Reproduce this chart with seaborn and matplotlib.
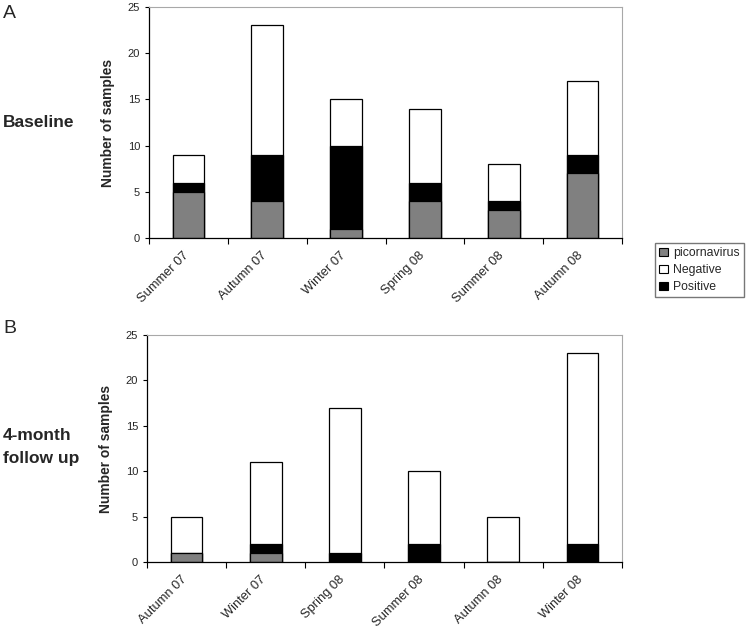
import pandas as pd
import seaborn as sns
import matplotlib.pyplot as plt
import matplotlib.transforms as mtransforms
from matplotlib.patches import Patch
from matplotlib.ticker import FixedLocator

sns.set_style("white")
plt.rcParams['font.family'] = ['Liberation Sans', 'DejaVu Sans']

# Baseline data (panel A)
seasons_a = ["Summer 07", "Autumn 07", "Winter 07", "Spring 08", "Summer 08", "Autumn 08"]
picorna_a = [5, 4, 1, 4, 3, 7]
positive_a = [1, 5, 9, 2, 1, 2]
negative_a = [3, 14, 5, 8, 4, 8]

# 4-month follow up data (panel B)
seasons_b = ["Autumn 07", "Winter 07", "Spring 08", "Summer 08", "Autumn 08", "Winter 08"]
picorna_b = [1, 1, 0, 0, 0, 0]
positive_b = [0, 1, 1, 2, 0, 2]
negative_b = [4, 9, 16, 8, 5, 21]

colors = {"picornavirus": "#808080", "Negative": "white", "Positive": "black"}


def stacked(fig, ax, seasons, pic, pos, neg):
    df = pd.DataFrame({"season": seasons, "picornavirus": pic,
                       "Positive": pos, "Negative": neg})
    df["top_pos"] = df["picornavirus"] + df["Positive"]
    df["top_neg"] = df["top_pos"] + df["Negative"]
    # layered bars: tallest first
    for col, c in [("top_neg", colors["Negative"]), ("top_pos", colors["Positive"]),
                   ("picornavirus", colors["picornavirus"])]:
        sns.barplot(data=df, x="season", y=col, color=c, ax=ax, width=0.4,
                    edgecolor="black", linewidth=0.9, saturation=1)
    ax.set_ylim(0, 25)
    ax.set_xlim(-0.5, len(seasons) - 0.5)
    ax.set_yticks(range(0, 26, 5))
    ax.set_xlabel("")
    ax.set_ylabel("Number of samples", fontsize=9.9, fontweight="bold", labelpad=9)
    ax.tick_params(axis="y", labelsize=8, length=3, direction="out", left=True, width=0.8, color="black")
    ax.tick_params(axis="x", which="major", length=0, labelsize=9.3, pad=8)
    ax.xaxis.set_minor_locator(FixedLocator([i - 0.5 for i in range(len(seasons) + 1)]))
    ax.tick_params(axis="x", which="minor", length=4, bottom=True, direction="out", width=0.8, color="black")
    shift = mtransforms.ScaledTranslation(-6 / 100, 0, fig.dpi_scale_trans)
    for lab in ax.get_xticklabels():
        lab.set_rotation(45)
        lab.set_ha("right")
        lab.set_rotation_mode("anchor")
        lab.set_transform(lab.get_transform() + shift)
    for s in ["left", "bottom"]:
        ax.spines[s].set_color("black")
        ax.spines[s].set_linewidth(0.9)
    for s in ["top", "right"]:
        ax.spines[s].set_color("#a8a8a8")
        ax.spines[s].set_linewidth(0.8)


fig = plt.figure(figsize=(7.48, 6.29), dpi=100)
ax1 = fig.add_axes([149 / 748, 1 - 238 / 629, (622 - 149) / 748, (238 - 7) / 629])
ax2 = fig.add_axes([147 / 748, 1 - 562 / 629, (622 - 147) / 748, (562 - 335) / 629])

stacked(fig, ax1, seasons_a, picorna_a, positive_a, negative_a)
stacked(fig, ax2, seasons_b, picorna_b, positive_b, negative_b)

fig.text(3 / 748, 1 - 18 / 629, "A", fontsize=14)
fig.text(3 / 748, 1 - 333 / 629, "B", fontsize=14)
fig.text(3 / 748, 1 - 127 / 629, "Baseline", fontsize=12.5, fontweight="bold")
fig.text(3 / 748, 1 - 440 / 629, "4-month", fontsize=12.5, fontweight="bold")
fig.text(3 / 748, 1 - 463 / 629, "follow up", fontsize=12.5, fontweight="bold")

handles = [Patch(facecolor=colors[k], edgecolor="black", linewidth=0.8, label=k)
           for k in ["picornavirus", "Negative", "Positive"]]
fig.legend(handles=handles, loc="upper left", bbox_to_anchor=(655 / 748, 1 - 243 / 629),
           fontsize=8.8, frameon=True, fancybox=False, edgecolor="#555555",
           handlelength=0.7, handleheight=0.7, handletextpad=0.4,
           labelspacing=0.4, borderpad=0.35, borderaxespad=0)

fig.savefig("out.png", dpi=100)
